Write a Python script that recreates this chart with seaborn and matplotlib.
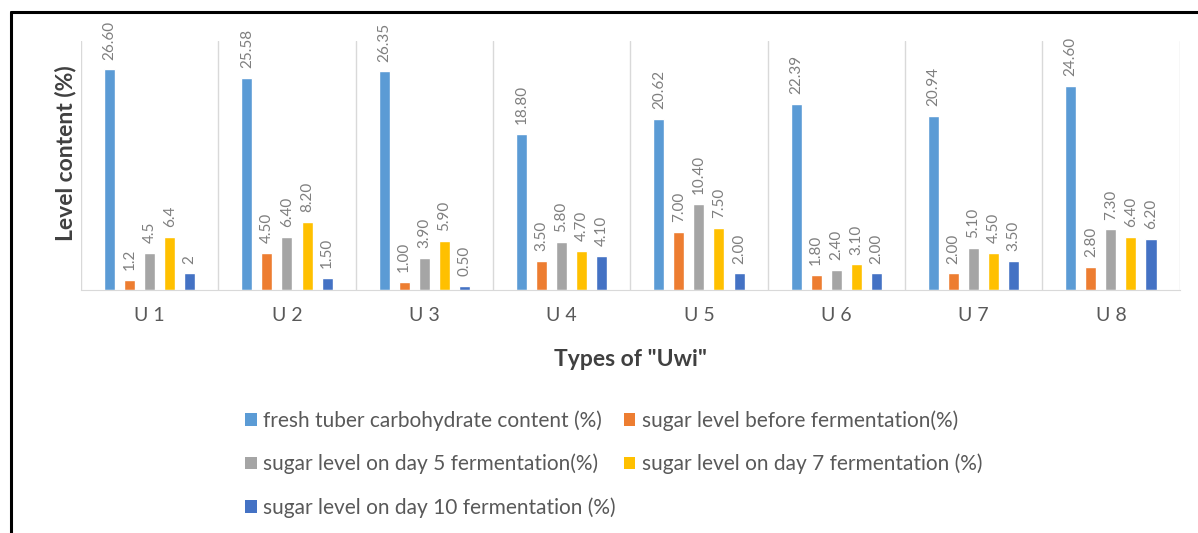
import numpy as np
import pandas as pd
import matplotlib
matplotlib.use('Agg')
import matplotlib.pyplot as plt
from matplotlib.patches import Patch
from matplotlib.lines import Line2D
import seaborn as sns

# ── Data ───────────────────────────────────────────────
types = ['U 1', 'U 2', 'U 3', 'U 4', 'U 5', 'U 6', 'U 7', 'U 8']

fresh_carb = [26.60, 25.58, 26.35, 18.80, 20.62, 22.39, 20.94, 24.60]
before_ferm = [1.2, 4.50, 1.00, 3.50, 7.00, 1.80, 2.00, 2.80]
day5_ferm = [4.5, 6.40, 3.90, 5.80, 10.40, 2.40, 5.10, 7.30]
day7_ferm = [6.4, 8.20, 5.90, 4.70, 7.50, 3.10, 4.50, 6.40]
day10_ferm = [2, 1.50, 0.50, 4.10, 2.00, 2.00, 3.50, 6.20]

# labels as printed (U 1 uses fewer decimals)
fresh_lbl = ['26.60', '25.58', '26.35', '18.80', '20.62', '22.39', '20.94', '24.60']
before_lbl = ['1.2', '4.50', '1.00', '3.50', '7.00', '1.80', '2.00', '2.80']
day5_lbl = ['4.5', '6.40', '3.90', '5.80', '10.40', '2.40', '5.10', '7.30']
day7_lbl = ['6.4', '8.20', '5.90', '4.70', '7.50', '3.10', '4.50', '6.40']
day10_lbl = ['2', '1.50', '0.50', '4.10', '2.00', '2.00', '3.50', '6.20']

series_names = ['fresh tuber carbohydrate content (%)',
                'sugar level before fermentation(%)',
                'sugar level on day 5 fermentation(%)',
                'sugar level on day 7 fermentation (%)',
                'sugar level on day 10 fermentation (%)']

colors = ['#5B9BD5', '#ED7D31', '#A5A5A5', '#FFC000', '#4472C4']

all_vals = [fresh_carb, before_ferm, day5_ferm, day7_ferm, day10_ferm]
all_lbls = [fresh_lbl, before_lbl, day5_lbl, day7_lbl, day10_lbl]

df = pd.DataFrame({
    'type': types * len(series_names),
    'series': np.repeat(series_names, len(types)),
    'value': np.concatenate(all_vals),
})

# ── Plot ───────────────────────────────────────────────
sns.set_style('white')
plt.rcParams['font.family'] = ['Lato', 'DejaVu Sans']

fig = plt.figure(figsize=(11.98, 5.33), dpi=100)
ax = fig.add_axes([0.0676, 0.456, 0.917, 0.467])

sns.barplot(data=df, x='type', y='value', hue='series',
            hue_order=series_names, palette=colors,
            width=0.73, gap=0.45, dodge=True,
            saturation=1, legend=False, ax=ax)

for cont, lbls in zip(ax.containers, all_lbls):
    ax.bar_label(cont, labels=lbls, rotation=90, padding=7,
                 fontsize=11, color='#7F7F7F')

ax.set_ylim(0, 30)
ax.set_xlim(-0.5, len(types) - 0.5)
ax.set_yticks([])

# vertical separators between categories
for b in np.arange(-0.5, len(types), 1.0):
    ax.axvline(b, color='#D9D9D9', lw=1, zorder=0)

for s in ['top', 'right', 'left']:
    ax.spines[s].set_visible(False)
ax.spines['bottom'].set_color('#D9D9D9')

ax.tick_params(axis='x', length=0, pad=12, labelsize=14,
               labelcolor='#595959')
ax.set_xlabel('Types of "Uwi"', fontsize=16.5, fontweight='bold',
              color='#404040', labelpad=18)
ax.set_ylabel('Level content (%)', fontsize=16.5, fontweight='bold',
              color='#404040')
ax.yaxis.set_label_coords(-0.004, 0.55)

# legend: Excel fills rows, matplotlib fills columns -> reorder
order = [0, 2, 4, 1, 3]
handles = [Patch(facecolor=colors[i], edgecolor='none') for i in order]
names = [series_names[i] for i in order]
fig.legend(handles, names, ncol=2, loc='upper left',
           bbox_to_anchor=(0.196, 0.25), frameon=False,
           fontsize=15, labelcolor='#595959',
           handlelength=0.55, handleheight=0.55, handletextpad=0.3,
           columnspacing=0.4, labelspacing=1.1, borderpad=0)

# frame lines like the cropped original
fig.add_artist(Line2D([11 / 1198, 1], [1 - 12 / 533, 1 - 12 / 533],
                      color='black', lw=2.2, transform=fig.transFigure))
fig.add_artist(Line2D([11 / 1198, 11 / 1198], [0, 1 - 12 / 533],
                      color='black', lw=2.2, transform=fig.transFigure))

plt.savefig('out.png', dpi=100)
